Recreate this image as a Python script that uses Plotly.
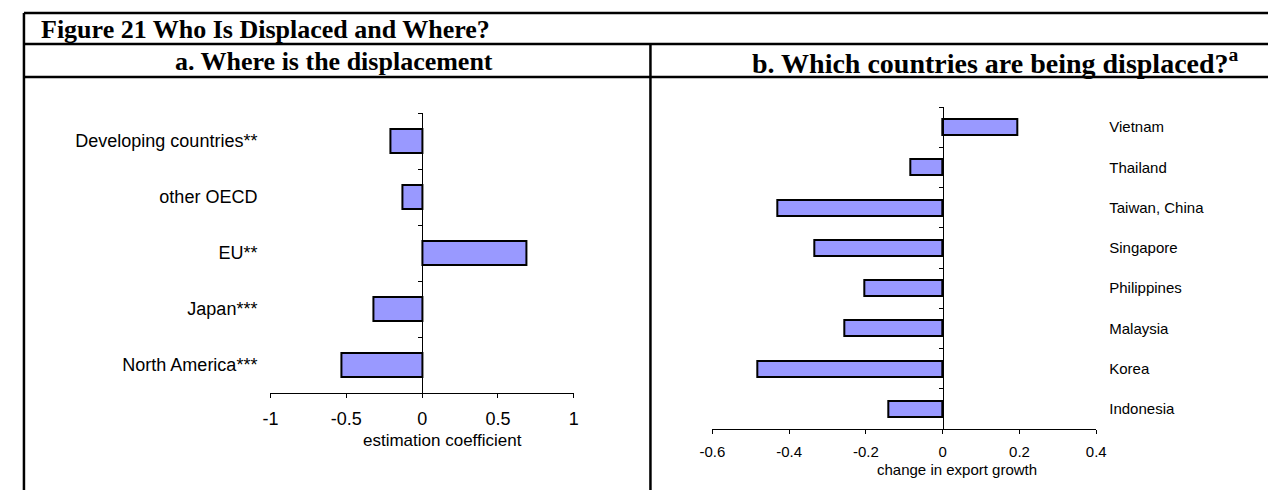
import plotly.graph_objects as go

# ---------------- data ----------------
title_text = "Figure 21 Who Is Displaced and Where?"
a_subtitle = "a. Where is the displacement"
b_subtitle = "b. Which countries are being displaced?<sup>a</sup>"

a_categories = ["North America***", "Japan***", "EU**", "other OECD", "Developing countries**"]
a_values = [-0.53, -0.32, 0.69, -0.13, -0.21]
a_xticks = [-1, -0.5, 0, 0.5, 1]
a_xrange = [-1, 1]
a_xtitle = "estimation coefficient"

b_categories = ["Indonesia", "Korea", "Malaysia", "Philippines", "Singapore",
                "Taiwan, China", "Thailand", "Vietnam"]
b_values = [-0.142, -0.483, -0.256, -0.204, -0.335, -0.431, -0.085, 0.195]
b_xticks = [-0.6, -0.4, -0.2, 0, 0.2, 0.4]
b_xrange = [-0.6, 0.4]
b_xtitle = "change in export growth"

# ---------------- layout helpers ----------------
W, H = 1276, 490
OFF = 8  # the page body margin shifts the figure by this many pixels
BAR = "#9999FF"
SANS = "Arial, Liberation Sans, sans-serif"
SERIF = "Times New Roman, Liberation Serif, serif"


def px(x):
    return (x - OFF) / W


def py(y):
    return 1 - (y - OFF) / H


a_xdom = [px(262), px(571)]
a_ydom = [py(393), py(113)]
b_xdom = [px(712), px(1103)]
b_ydom = [py(429), py(107)]


def zero_pos(dom, rng):
    return dom[0] + (0 - rng[0]) / (rng[1] - rng[0]) * (dom[1] - dom[0])


def fmt(v):
    return f"{v:g}"


fig = go.Figure()
fig.add_trace(go.Bar(x=a_values, y=a_categories, orientation="h", width=0.42,
                     xaxis="x", yaxis="y",
                     marker=dict(color=BAR, line=dict(color="black", width=2)),
                     showlegend=False))
fig.add_trace(go.Bar(x=b_values, y=b_categories, orientation="h", width=0.4,
                     xaxis="x2", yaxis="y2",
                     marker=dict(color=BAR, line=dict(color="black", width=2)),
                     showlegend=False))
# carriers for the category axes drawn at x = 0
fig.add_trace(go.Scatter(x=[None], y=[None], xaxis="x", yaxis="y3",
                         showlegend=False, hoverinfo="skip"))
fig.add_trace(go.Scatter(x=[None], y=[None], xaxis="x2", yaxis="y4",
                         showlegend=False, hoverinfo="skip"))

common_x = dict(ticks="outside", ticklen=4, tickcolor="black", showline=True,
                linecolor="black", linewidth=1, showgrid=False, zeroline=False,
                fixedrange=True)
common_y0 = dict(type="category", showline=False, ticks="", showgrid=False,
                 zeroline=False, fixedrange=True, ticklabelstandoff=12)
common_y1 = dict(ticks="outside", ticklen=4, tickcolor="black", showline=True,
                 linecolor="black", linewidth=1, showticklabels=False,
                 showgrid=False, zeroline=False, fixedrange=True, anchor="free")

fig.update_layout(
    width=W, height=H, margin=dict(l=0, r=0, t=0, b=0),
    paper_bgcolor="white", plot_bgcolor="rgba(0,0,0,0)",
    font=dict(family=SANS, color="black"),
    bargap=0,
    xaxis=dict(domain=a_xdom, range=a_xrange, anchor="y",
               tickvals=a_xticks, ticktext=[fmt(v) for v in a_xticks],
               tickfont=dict(size=18), ticklabelstandoff=5, **common_x),
    yaxis=dict(domain=a_ydom, anchor="x", categoryorder="array",
               categoryarray=a_categories, range=[-0.5, len(a_categories) - 0.5],
               tickfont=dict(size=18), **common_y0),
    yaxis3=dict(overlaying="y", position=zero_pos(a_xdom, a_xrange),
                range=[-0.5, len(a_categories) - 0.5],
                tickvals=[i - 0.5 for i in range(len(a_categories) + 1)],
                **common_y1),
    xaxis2=dict(domain=b_xdom, range=b_xrange, anchor="y2",
                tickvals=b_xticks, ticktext=[fmt(v) for v in b_xticks],
                tickfont=dict(size=15), ticklabelstandoff=5, **common_x),
    yaxis2=dict(domain=b_ydom, anchor="x2", side="right", categoryorder="array",
                categoryarray=b_categories, range=[-0.5, len(b_categories) - 0.5],
                tickfont=dict(size=15), **common_y0),
    yaxis4=dict(overlaying="y2", position=zero_pos(b_xdom, b_xrange),
                range=[-0.5, len(b_categories) - 0.5],
                tickvals=[i - 0.5 for i in range(len(b_categories) + 1)],
                **common_y1),
)

annotations = [
    dict(text=title_text, x=px(26), y=py(30), xanchor="left", yanchor="middle",
         font=dict(family=SERIF, size=26, weight="bold")),
    dict(text=a_subtitle, x=px(327), y=py(62), xanchor="center", yanchor="middle",
         font=dict(family=SERIF, size=26, weight="bold")),
    dict(text=b_subtitle, x=px(1000), y=py(62), xanchor="center", yanchor="middle",
         font=dict(family=SERIF, size=28, weight="bold")),
    dict(text=a_xtitle, x=px(437), y=py(440), xanchor="center", yanchor="middle",
         font=dict(size=17)),
    dict(text=b_xtitle, x=px(961), y=py(469), xanchor="center", yanchor="middle",
         font=dict(size=15)),
]
for an in annotations:
    an.update(xref="paper", yref="paper", showarrow=False)
fig.update_layout(annotations=annotations)

frame = [
    ((11, 13), (1290, 13)),
    ((11, 44), (1290, 44)),
    ((11, 77), (1290, 77)),
    ((11, 13), (11, 510)),
    ((649, 44), (649, 510)),
]
fig.update_layout(shapes=[
    dict(type="line", xref="paper", yref="paper",
         x0=px(p0[0]), y0=py(p0[1]), x1=px(p1[0]), y1=py(p1[1]),
         line=dict(color="black", width=2.5))
    for p0, p1 in frame
])

fig.write_html("out.html")
